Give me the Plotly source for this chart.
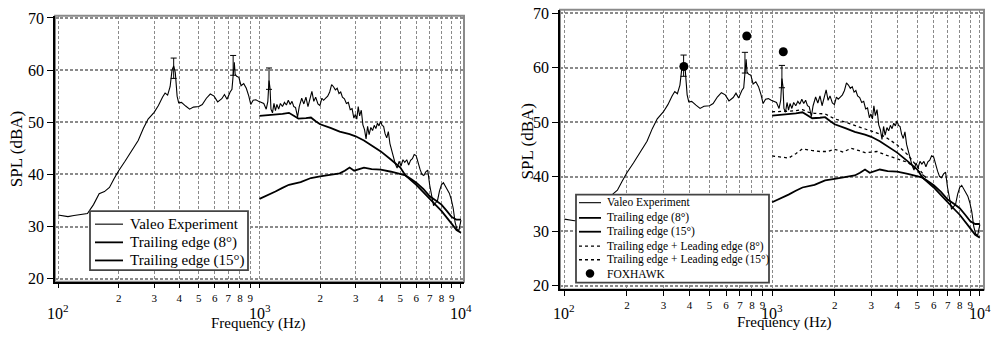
import plotly.graph_objects as go

# ---------------- data ----------------
freq_exp = [100, 106, 112, 120, 130, 140, 150, 160, 170, 180, 190, 200, 215, 230, 250, 265, 280, 300,
            315, 330, 340, 350, 360, 368, 375, 382, 390, 397, 410, 430, 450, 470, 500, 520, 545, 570,
            595, 620, 650, 670, 690, 715, 730, 742, 750, 757, 770, 790, 810, 835, 860, 885, 905, 930,
            960, 990, 1020, 1050, 1080, 1100, 1115, 1128, 1140, 1160, 1180, 1200, 1220, 1245, 1270,
            1300, 1330, 1360, 1390, 1420, 1450, 1480, 1510, 1545, 1575, 1620, 1660, 1700, 1740, 1780,
            1820, 1860, 1900, 1950, 1995, 2040, 2080, 2130, 2180, 2230, 2280, 2330, 2380, 2430, 2480,
            2530, 2580, 2640, 2700, 2760, 2820, 2880, 2940, 2990, 3040, 3090, 3140, 3200, 3260, 3320,
            3380, 3440, 3500, 3570, 3640, 3710, 3780, 3850, 3920, 3990, 4060, 4130, 4200, 4280, 4360,
            4440, 4530, 4620, 4720, 4820, 4930, 5040, 5150, 5260, 5380, 5500, 5620, 5740, 5860, 5990,
            6120, 6260, 6400, 6540, 6690, 6840, 6990, 7150, 7310, 7480, 7650, 7820, 8000, 8180, 8370,
            8560, 8750, 8950, 9150, 9350, 9550, 9760, 10000]
spl_exp = [32.2, 32.0, 31.9, 32.1, 32.3, 32.5, 34.2, 36.3, 36.7, 37.5, 39.2, 40.7, 42.5, 44.3, 46.5,
           48.8, 50.6, 51.9, 53.2, 54.8, 55.6, 55.2, 56.8, 60.0, 60.8, 59.5, 55.0, 53.7, 53.8, 53.1,
           52.5, 52.9, 53.0, 53.4, 54.6, 55.4, 55.0, 53.9, 54.5, 55.3, 54.4, 55.8, 56.3, 59.5, 61.5,
           59.2, 58.8, 58.6, 57.0, 57.4, 56.5, 55.0, 53.4, 54.2, 54.3, 54.0, 53.8, 53.6, 52.5, 54.0,
           58.0, 56.5, 52.5, 51.8, 53.6, 52.2, 53.4, 52.5, 53.6, 53.0, 53.8, 53.3, 54.2, 53.4, 54.0,
           53.0, 52.8, 51.0, 53.0, 54.6, 53.5, 54.8, 53.0, 54.8, 55.9, 54.0, 54.8, 53.5, 53.2, 54.6,
           54.2, 54.6, 55.0, 55.8, 57.2, 56.8, 56.2, 56.5, 55.5, 55.8, 54.8, 54.5, 53.6, 53.8, 52.4,
           52.6, 50.8, 51.5, 50.6, 53.0, 51.2, 52.3, 49.5, 48.6, 46.8, 49.2, 47.6, 49.0, 48.4, 49.4,
           48.8, 49.8, 49.3, 50.2, 49.4, 49.2, 47.8, 47.0, 48.2, 45.9, 44.6, 43.3, 42.0, 41.2, 42.5,
           41.6, 42.8, 42.3, 42.8, 41.8, 42.7, 43.0, 43.8, 43.6, 42.2, 41.0, 40.0, 39.8, 40.5, 40.8,
           38.0, 35.8, 34.0, 34.5, 35.0, 36.8, 38.0, 38.4, 37.8, 37.0, 36.4, 35.2, 33.5, 30.8, 29.5,
           29.2, 31.2]

freq_te8 = [1000, 1100, 1200, 1300, 1400, 1480, 1560, 1700, 1800, 1900, 2000, 2250, 2500, 2800, 3000,
            3300, 3600, 4000, 4500, 5000, 5300, 6000, 6500, 7000, 7500, 8000, 8500, 9000, 9500, 10000]
spl_te8 = [51.2, 51.3, 51.4, 51.6, 51.8, 51.2, 50.7, 50.8, 50.9, 50.2, 49.6, 48.9, 48.2, 47.7, 47.3,
           46.5, 45.6, 44.4, 42.8, 41.3, 39.8, 38.0, 36.6, 35.2, 34.1, 33.0, 31.8, 30.5, 29.3, 28.8]

freq_te15 = [1000, 1100, 1200, 1300, 1400, 1600, 1800, 2000, 2300, 2500, 2650, 2800, 2950, 3100, 3300,
             3600, 4000, 4500, 5000, 5300, 5700, 6000, 6500, 7000, 7500, 8000, 8500, 9000, 9500, 10000]
spl_te15 = [35.3, 36.0, 36.7, 37.4, 38.0, 38.5, 39.3, 39.6, 40.0, 40.2, 40.7, 41.3, 40.7, 41.0, 41.3,
            41.0, 40.9, 40.5, 40.0, 39.8, 39.0, 38.4, 37.2, 35.8, 35.0, 34.2, 33.0, 31.8, 31.3, 31.3]

freq_tele8 = [1000, 1100, 1200, 1300, 1400, 1500, 1600, 1800, 2000, 2250, 2500, 2800, 3000, 3300, 3600,
              4000, 4500, 5000, 5500]
spl_tele8 = [51.9, 51.9, 52.0, 52.1, 52.3, 51.8, 51.6, 51.5, 50.6, 50.0, 49.4, 48.8, 48.4, 47.8, 47.0,
             45.8, 44.0, 41.8, 39.8]

freq_tele15 = [1000, 1100, 1200, 1300, 1400, 1550, 1700, 1850, 2000, 2200, 2400, 2600, 2800, 3000, 3200,
               3500, 4000, 4500, 5000, 5500]
spl_tele15 = [43.8, 43.6, 43.4, 44.2, 45.1, 44.8, 44.6, 44.6, 45.0, 44.5, 45.2, 44.8, 44.4, 44.5, 44.6,
              44.0, 43.3, 42.6, 41.2, 39.8]

freq_fox = [376, 755, 1132]
spl_fox = [60.2, 65.8, 62.9]

freq_err = [375, 740, 1115]
err_low = [58.4, 59.0, 56.3]
err_high = [62.3, 62.8, 60.4]

x_minor_labels = ["", "2", "3", "4", "5", "6", "7", "8", "9"]
y_ticks = [20, 30, 40, 50, 60, 70]

names_left = ["Valeo Experiment", "Trailing edge (8°)", "Trailing edge (15°)"]
names_right = ["Valeo Experiment", "Trailing edge (8°)", "Trailing edge (15°)",
               "Trailing edge + Leading edge (8°)", "Trailing edge + Leading edge (15°)", "FOXHAWK"]

FONT = "Liberation Serif"
W, H = 993, 338

def px(x):
    return x / W

def py(y):
    return 1 - y / H

fig = go.Figure()

STY = {
    "Valeo Experiment": dict(color="black", width=1.1),
    "Trailing edge (8°)": dict(color="black", width=1.8),
    "Trailing edge (15°)": dict(color="black", width=1.8),
    "Trailing edge + Leading edge (8°)": dict(color="black", width=1.3, dash="3px,3px"),
    "Trailing edge + Leading edge (15°)": dict(color="black", width=1.3, dash="3px,3px"),
}

CAP = 1.035  # half-width of error-bar caps, as a frequency ratio

for i, (xa, ya) in enumerate([("x", "y"), ("x2", "y2")]):
    series = [(freq_exp, spl_exp, "Valeo Experiment"),
              (freq_te8, spl_te8, "Trailing edge (8°)"),
              (freq_te15, spl_te15, "Trailing edge (15°)")]
    if i == 1:
        series += [(freq_tele8, spl_tele8, "Trailing edge + Leading edge (8°)"),
                   (freq_tele15, spl_tele15, "Trailing edge + Leading edge (15°)")]
    for fx, fy, nm in series:
        fig.add_trace(go.Scatter(x=fx, y=fy, mode="lines", name=nm, line=STY[nm],
                                 xaxis=xa, yaxis=ya, showlegend=False, hoverinfo="skip"))
    for f, lo, hi in zip(freq_err, err_low, err_high):
        fig.add_trace(go.Scatter(x=[f, f, None, f / CAP, f * CAP, None, f / CAP, f * CAP],
                                 y=[lo, hi, None, hi, hi, None, lo, lo], mode="lines",
                                 line=dict(color="black", width=1),
                                 xaxis=xa, yaxis=ya, showlegend=False, hoverinfo="skip"))
    if i == 1:
        fig.add_trace(go.Scatter(x=freq_fox, y=spl_fox, mode="markers", name="FOXHAWK",
                                 marker=dict(color="black", size=9, symbol="circle"),
                                 xaxis=xa, yaxis=ya, showlegend=False, hoverinfo="skip"))

tickvals = []
ticktext = []
for dec in [100, 1000]:
    for k in range(1, 10):
        tickvals.append(k * dec)
        ticktext.append(x_minor_labels[k - 1])
tickvals.append(10000)
ticktext.append("")

def xaxis_cfg(domain, rng, anchor):
    return dict(domain=domain, type="log", range=rng, tickvals=tickvals, ticktext=ticktext,
                anchor=anchor,
                ticks="outside", ticklen=5, tickwidth=1, tickcolor="black",
                showline=True, linecolor="black", linewidth=1.5, mirror=False,
                showgrid=True, gridcolor="#8a8a8a", gridwidth=1, griddash="3px,2px",
                tickfont=dict(family=FONT, size=11, color="black"), zeroline=False)

def yaxis_cfg(domain, rng, anchor):
    return dict(domain=domain, range=rng, tickvals=y_ticks, anchor=anchor,
                ticks="outside", ticklen=6, tickwidth=1, tickcolor="black",
                showline=True, linecolor="black", linewidth=1.5, mirror=False,
                showgrid=True, gridcolor="#8a8a8a", gridwidth=1.5, griddash="3px,2px",
                tickfont=dict(family=FONT, size=16, color="black"), zeroline=False)

fig.update_layout(
    width=W, height=H,
    margin=dict(l=0, r=0, t=0, b=0),
    paper_bgcolor="white", plot_bgcolor="white",
    font=dict(family=FONT, color="black"),
    xaxis=xaxis_cfg([55 / W, 464 / W], [1.985, 4.015], "y"),
    yaxis=yaxis_cfg([1 - 285 / H, 1 - 10 / H], [19.41, 70.43], "x"),
    xaxis2=xaxis_cfg([560 / W, 984 / W], [1.979, 4.020], "y2"),
    yaxis2=yaxis_cfg([1 - 293 / H, 1 - 4 / H], [19.29, 70.59], "x2"),
    showlegend=False,
    hovermode=False,
)

shapes = []
for xa, ya in [("x", "y"), ("x2", "y2")]:
    shapes.append(dict(type="rect", xref=f"{xa} domain", yref=f"{ya} domain",
                       x0=0, x1=1, y0=0, y1=1, line=dict(color="#8a8a8a", width=2),
                       layer="below"))

ann = []

# ---- manual legends ----
def add_legend(box, rows, names, line_x, text_x, fsize):
    x0, y0, x1, y1 = box
    shapes.append(dict(type="rect", xref="paper", yref="paper", x0=px(x0), x1=px(x1),
                       y0=py(y1), y1=py(y0), fillcolor="white",
                       line=dict(color="#444", width=1.8), layer="above"))
    for ry, nm in zip(rows, names):
        if nm == "FOXHAWK":
            cx = (line_x[0] + line_x[1]) / 2
            r = 4.3
            shapes.append(dict(type="circle", xref="paper", yref="paper",
                               x0=px(cx - r), x1=px(cx + r), y0=py(ry + r), y1=py(ry - r),
                               fillcolor="black", line=dict(color="black", width=0),
                               layer="above"))
        else:
            st = STY[nm]
            shapes.append(dict(type="line", xref="paper", yref="paper",
                               x0=px(line_x[0]), x1=px(line_x[1]), y0=py(ry), y1=py(ry),
                               line=dict(color="black", width=st["width"],
                                         dash=st.get("dash", "solid")),
                               layer="above"))
        ann.append(dict(x=px(text_x), y=py(ry), xref="paper", yref="paper", showarrow=False,
                        text=nm, xanchor="left", yanchor="middle",
                        font=dict(family=FONT, size=fsize, color="black")))

add_legend((90, 212, 248, 273), [225.5, 244.3, 263], names_left, (95, 123), 128, 15)
add_legend((576, 195, 769, 286), [203.3, 219, 233.3, 248.3, 262.3, 276.5], names_right,
           (579, 601), 605, 11.5)

fig.update_layout(shapes=shapes)

for xa in ["x", "x2"]:
    for p in [2, 3, 4]:
        ann.append(dict(x=p, xref=xa, y=py(316), yref="paper", showarrow=False,
                        text=f"10<sup>{p}</sup>", font=dict(family=FONT, size=16, color="black"),
                        xanchor="center", yanchor="middle"))
for cx, cy in [(258.5, 328), (784, 327)]:
    ann.append(dict(x=px(cx), y=py(cy), xref="paper", yref="paper", showarrow=False,
                    xanchor="center", yanchor="middle",
                    text="Frequency (Hz)", font=dict(family=FONT, size=15, color="black")))
for cx, cy in [(16, 148), (527, 140)]:
    ann.append(dict(x=px(cx), y=py(cy), xref="paper", yref="paper", showarrow=False,
                    xanchor="center", yanchor="middle",
                    text="SPL (dBA)", textangle=-90, font=dict(family=FONT, size=17, color="black")))
fig.update_layout(annotations=ann)

fig.write_html("out.html")
